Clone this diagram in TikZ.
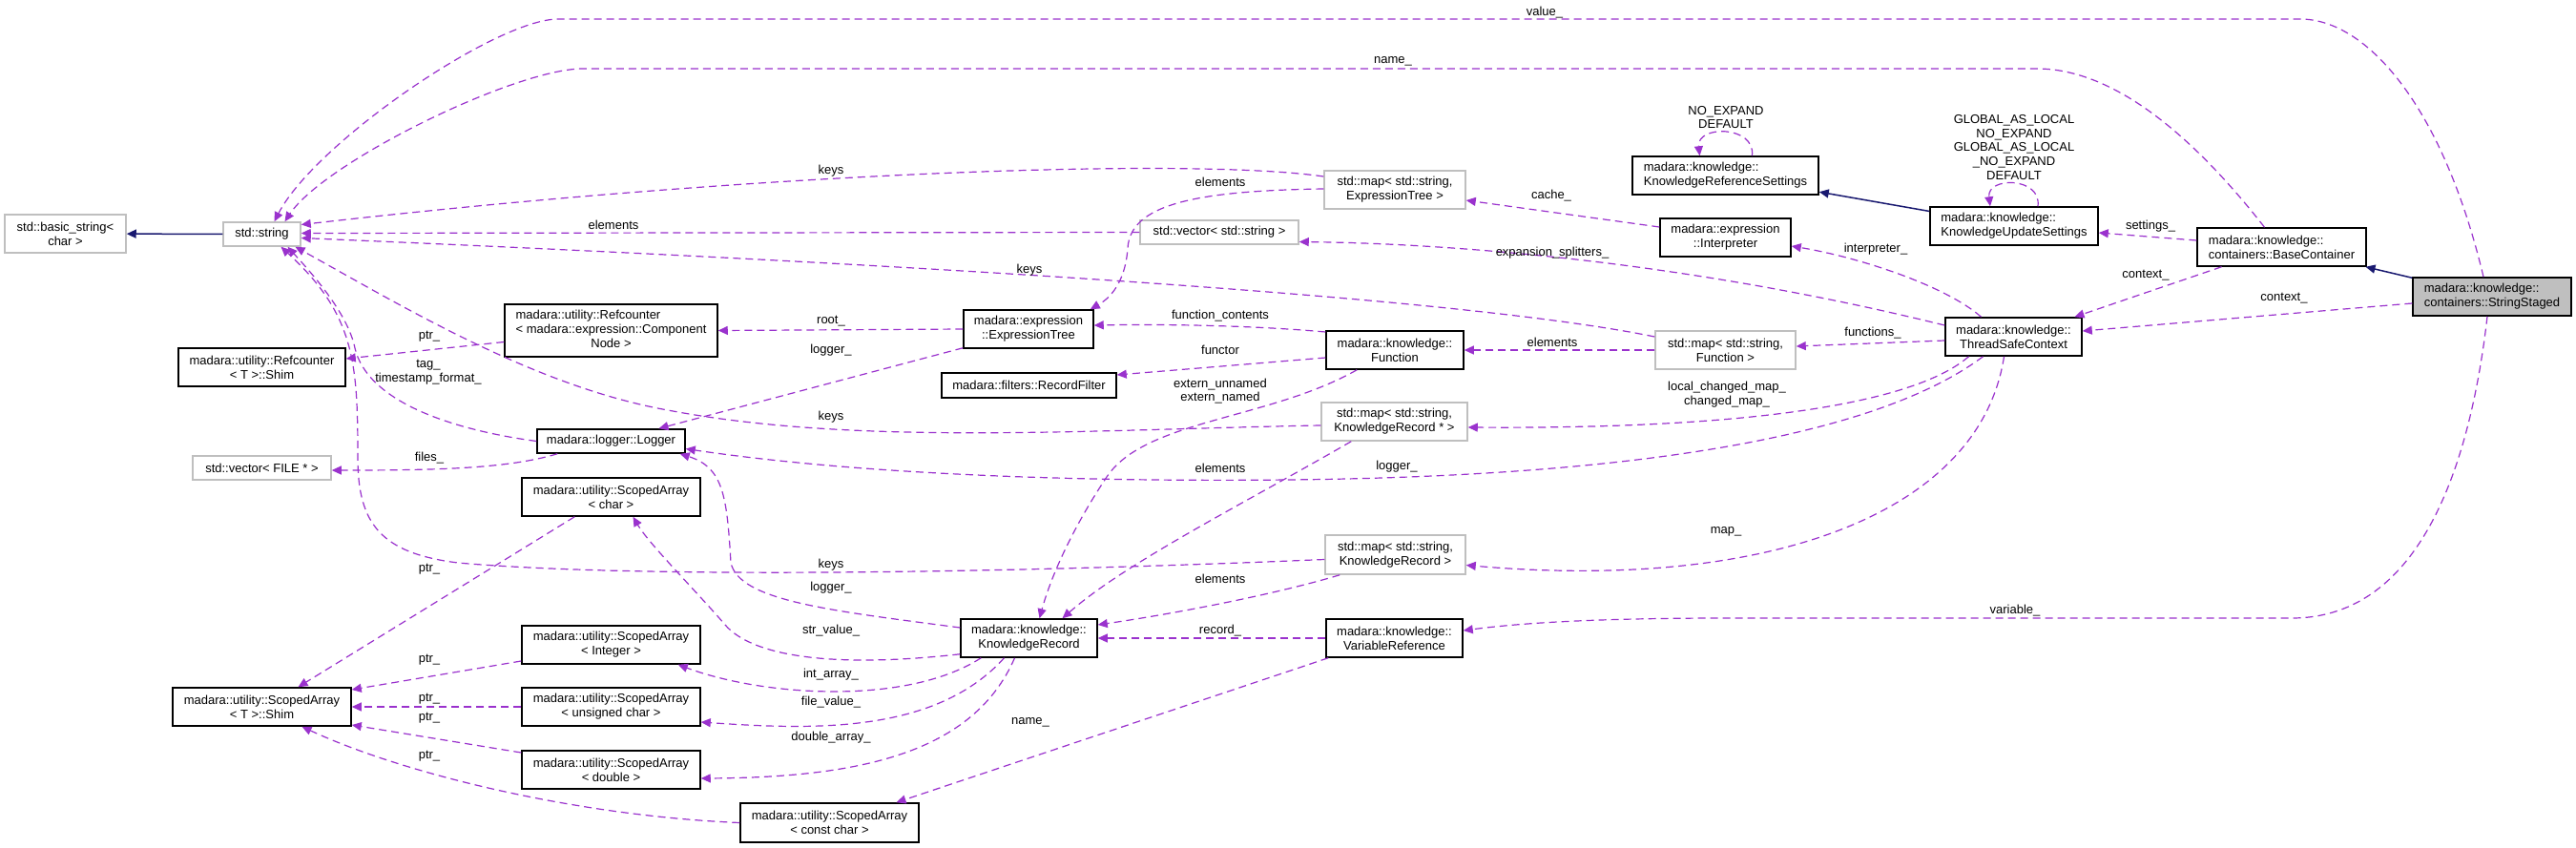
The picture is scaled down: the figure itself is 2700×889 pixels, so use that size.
\documentclass[tikz,border=0pt]{standalone}
\usepackage{fontspec}
\setmainfont{Liberation Sans}
\usetikzlibrary{arrows.meta,calc}
\definecolor{purp}{HTML}{9A32CD}
\definecolor{navyc}{HTML}{191970}
\definecolor{lgray}{HTML}{BFBFBF}
\newcommand\dfont{\fontsize{6.5pt}{7.4pt}\selectfont}
\begin{document}
\begin{tikzpicture}[x=0.5pt,y=-0.5pt,
  box/.style={draw=black, line width=0.75pt, inner sep=0pt, font=\dfont, align=center, fill=white},
  gbox/.style={box, draw=lgray},
  e/.style={draw=purp, line width=0.6pt, dash pattern=on 4pt off 2.5pt, -{Triangle[length=5pt,width=4.5pt]}},
  inh/.style={draw=navyc, line width=0.75pt, -{Triangle[length=5pt,width=4.5pt]}},
  lb/.style={font=\dfont, inner sep=0pt, align=center}]
\useasboundingbox (0,0) rectangle (2700,889);
\fill[white] (0,0) rectangle (2700,889);
% nodes
\node[gbox, minimum width=63.5pt, minimum height=20pt] (bstr) at (68.5,245) {std::basic\_string<\\char >};
\node[gbox, minimum width=40.5pt, minimum height=12.5pt] (str) at (274.5,245.5) {std::string};
\node[box, minimum width=87.5pt, minimum height=20pt] (rshim) at (274.5,385) {madara::utility::Refcounter\\< T >::Shim};
\node[gbox, minimum width=72.5pt, minimum height=12.5pt] (vfile) at (274.5,490.5) {std::vector< FILE * >};
\node[box, minimum width=93.5pt, minimum height=20pt] (sshim) at (274.5,741) {madara::utility::ScopedArray\\< T >::Shim};
\node[box, minimum width=111.5pt, minimum height=27.5pt] (rcn) at (640.5,346.5) {\begin{tabular}{@{}l@{}}madara::utility::Refcounter\\< madara::expression::Component\\\multicolumn{1}{@{}c@{}}{Node >}\end{tabular}};
\node[box, minimum width=77.5pt, minimum height=12.5pt] (logger) at (640.5,462.5) {madara::logger::Logger};
\node[box, minimum width=93.5pt, minimum height=20pt] (sachar) at (640.5,521) {madara::utility::ScopedArray\\< char >};
\node[box, minimum width=93.5pt, minimum height=20pt] (saint) at (640.5,676) {madara::utility::ScopedArray\\< Integer >};
\node[box, minimum width=93.5pt, minimum height=20pt] (sauchar) at (640.5,741) {madara::utility::ScopedArray\\< unsigned char >};
\node[box, minimum width=93.5pt, minimum height=20pt] (sadouble) at (640.5,807) {madara::utility::ScopedArray\\< double >};
\node[box, minimum width=93.5pt, minimum height=20.5pt] (saconst) at (869.5,862.5) {madara::utility::ScopedArray\\< const char >};
\node[box, minimum width=68pt, minimum height=20pt] (etree) at (1078,345) {madara::expression\\::ExpressionTree};
\node[box, minimum width=91.5pt, minimum height=13pt] (rfilter) at (1078.5,404) {madara::filters::RecordFilter};
\node[box, minimum width=71.5pt, minimum height=20pt] (krec) at (1078.5,669) {madara::knowledge::\\KnowledgeRecord};
\node[gbox, minimum width=74pt, minimum height=20pt] (mapet) at (1462,199) {std::map< std::string,\\ExpressionTree >};
\node[gbox, minimum width=83pt, minimum height=12.5pt] (vstr) at (1278,243.5) {std::vector< std::string >};
\node[box, minimum width=72pt, minimum height=20pt] (func) at (1462,367) {madara::knowledge::\\Function};
\node[gbox, minimum width=76.5pt, minimum height=20pt] (mapkrp) at (1461.5,442) {std::map< std::string,\\KnowledgeRecord * >};
\node[gbox, minimum width=73.5pt, minimum height=20.5pt] (mapkr) at (1462.5,581.5) {std::map< std::string,\\KnowledgeRecord >};
\node[box, minimum width=71.5pt, minimum height=20pt] (varref) at (1461.5,669) {madara::knowledge::\\VariableReference};
\node[box, minimum width=97.5pt, minimum height=20pt, align=left] (krs) at (1808.5,184) {madara::knowledge::\\KnowledgeReferenceSettings};
\node[box, minimum width=68.5pt, minimum height=20pt] (interp) at (1808.5,249) {madara::expression\\::Interpreter};
\node[gbox, minimum width=73.5pt, minimum height=20pt] (mapfn) at (1808.5,367) {std::map< std::string,\\Function >};
\node[box, minimum width=88pt, minimum height=20pt, align=left] (kus) at (2111,237) {madara::knowledge::\\KnowledgeUpdateSettings};
\node[box, minimum width=71.5pt, minimum height=20pt] (tsc) at (2110.5,353) {madara::knowledge::\\ThreadSafeContext};
\node[box, minimum width=88.5pt, minimum height=20pt, align=left] (basec) at (2391.5,259) {madara::knowledge::\\containers::BaseContainer};
\node[box, minimum width=83pt, minimum height=20pt, align=left, fill=lgray] (sstaged) at (2612,311) {madara::knowledge::\\containers::StringStaged};
% inheritance
\draw[inh] (str) -- (bstr);
\draw[inh] (kus) -- (krs);
\draw[inh] (sstaged) -- (basec);
% self loops
\draw[e] ($(krs.north)+(28,0)$) .. controls (1840,131) and (1778,131) .. ($(krs.north)+(-27,0)$);
\draw[e] ($(kus.north)+(25,0)$) .. controls (2140,185) and (2082,185) .. ($(kus.north)+(-25,0)$);
% usage edges
\draw[e] ($(sstaged.north)+(-9,0)$) .. controls (2560,110) and (2480,20) .. (2411,20) -- (585,20) .. controls (520,20) and (330,150) .. ($(str.north)+(13,0)$);
\draw[e] ($(basec.north)+(-18,0)$) .. controls (2320,170) and (2230,72) .. (2135,72) -- (611,72) .. controls (540,72) and (340,170) .. ($(str.north)+(24,0)$);
\draw[e] ($(basec.west)+(0,-7)$) -- ($(kus.east)+(0,7)$);
\draw[e] ($(basec.south)+(-63,0)$) -- ($(tsc.north)+(64,0)$);
\draw[e] ($(sstaged.west)+(0,7)$) -- ($(tsc.east)+(0,-6)$);
\draw[e] ($(sstaged.south)+(-5,0)$) .. controls (2590,480) and (2540,648) .. (2402,648) -- (1810,648) .. controls (1650,648) and (1580,655) .. ($(varref.east)+(0,-8)$);
\draw[e] ($(tsc.north)+(-34,0)$) .. controls (2040,300) and (1950,270) .. ($(interp.east)+(0,9)$);
\draw[e] ($(tsc.west)+(0,-12)$) .. controls (1750,270) and (1500,255) .. ($(vstr.east)+(0,10)$);
\draw[e] ($(tsc.west)+(0,4)$) -- ($(mapfn.east)+(0,-4)$);
\draw[e] ($(tsc.south)+(-47,0)$) .. controls (2010,420) and (1850,450) .. ($(mapkrp.east)+(0,6)$);
\draw[e] ($(tsc.south)+(-32,0)$) .. controls (1950,470) and (1650,500) .. (1350,503) .. controls (1050,506) and (850,490) .. ($(logger.east)+(0,8)$);
\draw[e] ($(tsc.south)+(-10,0)$) .. controls (2075,540) and (1850,620) .. ($(mapkr.east)+(0,11)$);
\draw[e] ($(interp.west)+(0,-11)$) -- ($(mapet.east)+(0,11)$);
\draw[e] ($(mapet.west)+(0,-14)$) .. controls (1250,165) and (800,180) .. ($(str.east)+(0,-10)$);
\draw[e] ($(mapet.west)+(0,-1)$) .. controls (1250,200) and (1185,215) .. (1182,260) .. controls (1180,290) and (1168,310) .. ($(etree.north east)+(-4,0)$);
\draw[e] (vstr.west) -- ($(str.east)+(0,-1)$);
\draw[e] ($(mapfn.west)+(0,-14)$) .. controls (1500,305) and (800,270) .. ($(str.east)+(0,4)$);
\draw[e] (mapfn.west) -- (func.east);
\draw[e] ($(func.west)+(0,-19)$) .. controls (1300,340) and (1200,340) .. ($(etree.east)+(0,-4)$);
\draw[e] ($(func.west)+(0,8)$) -- ($(rfilter.east)+(0,-11)$);
\draw[e] ($(func.south west)+(33,0)$) .. controls (1330,440) and (1200,440) .. (1160,500) .. controls (1120,560) and (1100,610) .. ($(krec.north)+(11,0)$);
\draw[e] (etree.west) -- (rcn.east);
\draw[e] ($(etree.south west)+(0,-1)$) -- ($(logger.north)+(50,0)$);
\draw[e] ($(rcn.west)+(0,12)$) -- ($(rshim.east)+(0,-9)$);
\draw[e] (logger.west) .. controls (470,450) and (385,420) .. (372,365) .. controls (365,330) and (330,290) .. ($(str.south)+(27,0)$);
\draw[e] ($(logger.south west)+(22,0)$) .. controls (530,492) and (450,493) .. ($(vfile.east)+(0,2.5)$);
\draw[e] ($(mapkrp.west)+(0,4)$) .. controls (1150,450) and (900,468) .. (700,430) .. controls (560,405) and (420,320) .. ($(str.south)+(35,0)$);
\draw[e] ($(mapkrp.south west)+(32,0)$) .. controls (1300,530) and (1180,590) .. ($(krec.north)+(35,0)$);
\draw[e] ($(mapkr.west)+(0,5)$) .. controls (1000,603) and (650,605) .. (480,590) .. controls (400,580) and (375,550) .. (375,480) .. controls (375,380) and (372,330) .. ($(str.south)+(20,0)$);
\draw[e] ($(mapkr.south west)+(16,0)$) .. controls (1330,625) and (1220,645) .. ($(krec.east)+(0,-14)$);
\draw[e] ($(krec.west)+(0,-11)$) .. controls (870,640) and (775,630) .. (766,590) .. controls (762,520) and (758,490) .. ($(logger.south east)+(-6,0)$);
\draw[e] ($(krec.south west)+(0,-4)$) .. controls (880,700) and (790,690) .. (760,655) .. controls (730,620) and (680,570) .. ($(sachar.south)+(23,0)$);
\draw[e] ($(krec.south west)+(22,0)$) .. controls (950,740) and (800,730) .. ($(saint.south east)+(-24,0)$);
\draw[e] ($(krec.south)+(-26,0)$) .. controls (980,770) and (850,765) .. ($(sauchar.east)+(0,16)$);
\draw[e] ($(krec.south)+(-15,0)$) .. controls (1020,790) and (900,815) .. ($(sadouble.east)+(0,9)$);
\draw[e] (varref.west) -- (krec.east);
\draw[e] ($(varref.south west)+(3,0)$) -- ($(saconst.north)+(70,0)$);
\draw[e] ($(sachar.south west)+(56,0)$) -- ($(sshim.north)+(38,0)$);
\draw[e] ($(saint.west)+(0,17)$) -- ($(sshim.east)+(0,-18)$);
\draw[e] (sauchar.west) -- (sshim.east);
\draw[e] ($(sadouble.west)+(0,-18)$) -- ($(sshim.east)+(0,19)$);
\draw[e] (saconst.west) .. controls (600,855) and (420,810) .. ($(sshim.south)+(42,0)$);
% labels
\node[lb] (l1) at (1619,13) {value\_};
\node[lb] (l2) at (1460,64) {name\_};
\node[lb] (l3) at (1809,123) {NO\_EXPAND\\DEFAULT};
\node[lb] (l4) at (2111,154.5) {GLOBAL\_AS\_LOCAL\\NO\_EXPAND\\GLOBAL\_AS\_LOCAL\\\_NO\_EXPAND\\DEFAULT};
\node[lb] (l5) at (871,179) {keys};
\node[lb] (l6) at (1279,191) {elements};
\node[lb] (l7) at (1626,205) {cache\_};
\node[lb] (l8) at (643,236) {elements};
\node[lb] (l9) at (2254,237) {settings\_};
\node[lb] (l10) at (1966,261) {interpreter\_};
\node[lb] (l11) at (1627,265) {expansion\_splitters\_};
\node[lb] (l12) at (1079,283) {keys};
\node[lb] (l13) at (2249,289) {context\_};
\node[lb] (l14) at (2394,313) {context\_};
\node[lb] (l15) at (1279,331) {function\_contents};
\node[lb] (l16) at (871,337) {root\_};
\node[lb] (l17) at (450,353) {ptr\_};
\node[lb] (l18) at (1963,349) {functions\_};
\node[lb] (l19) at (1627,359) {elements};
\node[lb] (l20) at (1279,367) {functor};
\node[lb] (l21) at (871,367) {logger\_};
\node[lb] (l22) at (449,390.5) {tag\_\\timestamp\_format\_};
\node[lb] (l23) at (1279,410) {extern\_unnamed\\extern\_named};
\node[lb] (l24) at (1810,414) {local\_changed\_map\_\\changed\_map\_};
\node[lb] (l25) at (871,437) {keys};
\node[lb] (l26) at (450,480) {files\_};
\node[lb] (l27) at (1279,491) {elements};
\node[lb] (l28) at (1464,489) {logger\_};
\node[lb] (l29) at (1809,557) {map\_};
\node[lb] (l30) at (871,592) {keys};
\node[lb] (l31) at (450,597) {ptr\_};
\node[lb] (l32) at (1279,607) {elements};
\node[lb] (l33) at (871,616) {logger\_};
\node[lb] (l34) at (2112,640) {variable\_};
\node[lb] (l35) at (871,661) {str\_value\_};
\node[lb] (l36) at (1279,661) {record\_};
\node[lb] (l37) at (450,692) {ptr\_};
\node[lb] (l38) at (871,707) {int\_array\_};
\node[lb] (l39) at (450,733) {ptr\_};
\node[lb] (l40) at (871,736) {file\_value\_};
\node[lb] (l41) at (450,753) {ptr\_};
\node[lb] (l42) at (1080,757) {name\_};
\node[lb] (l43) at (871,773) {double\_array\_};
\node[lb] (l44) at (450,793) {ptr\_};
\end{tikzpicture}
\end{document}
